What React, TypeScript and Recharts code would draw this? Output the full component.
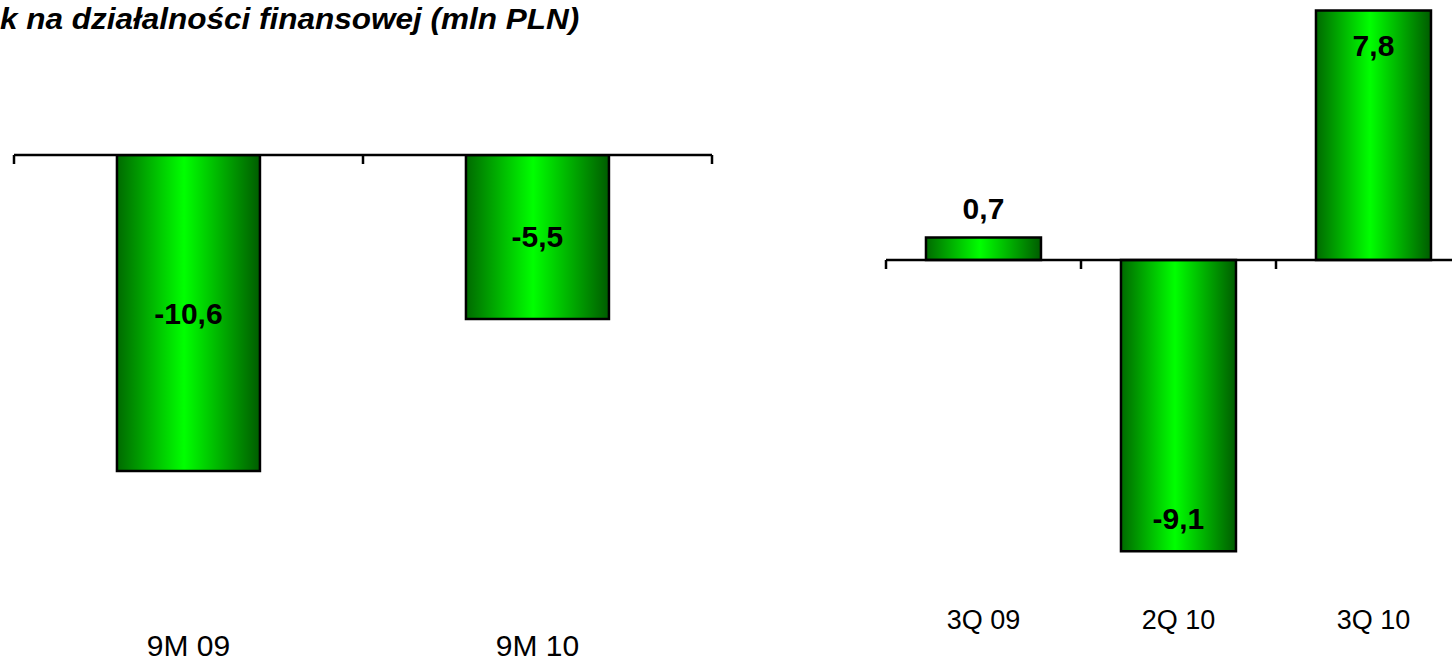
import React from "react";
import { BarChart, Bar, XAxis, YAxis, ReferenceLine, LabelList } from "recharts";

// left panel: 9-month totals
const periodLabels = ["9M 09", "9M 10"];
const periodValues = [-10.6, -5.5];

// right panel: quarters
const quarterLabels = ["3Q 09", "2Q 10", "3Q 10"];
const quarterValues = [0.7, -9.1, 7.8];

const TITLE = "k na działalności finansowej (mln PLN)";
const FONT = '"Liberation Sans", Arial, sans-serif';

const periodData = periodLabels.map((name, i) => ({ name, value: periodValues[i] }));
const quarterData = quarterLabels.map((name, i) => ({ name, value: quarterValues[i] }));

const fmt = (v: number) => v.toFixed(1).replace(".", ",");

// zero line with tick marks at category boundaries (Excel style)
const zeroAxis = (count: number) => (props: any) => {
  const { x1, y1, x2 } = props;
  const step = (x2 - x1) / count;
  return (
    <g>
      <line x1={x1} y1={y1} x2={x2} y2={y1} stroke="#000" strokeWidth={2.5} />
      {Array.from({ length: count + 1 }, (_, i) => (
        <line
          key={i}
          x1={x1 + i * step}
          x2={x1 + i * step}
          y1={y1}
          y2={y1 + 9}
          stroke="#000"
          strokeWidth={2.5}
        />
      ))}
    </g>
  );
};

// "center" puts the value mid-bar, "end" puts it past the bar end unless it would leave the plot
const valueLabel = (mode: "center" | "end", plotTop: number, plotBottom: number) => (props: any) => {
  const { x, y, width, height, value } = props;
  const top = Math.min(y, y + height);
  const bottom = Math.max(y, y + height);
  const cx = x + width / 2;
  let cy = (top + bottom) / 2;
  if (mode === "end") {
    if (value >= 0) cy = top - 32 < plotTop + 20 ? top + 35 : top - 29;
    else cy = bottom + 32 > plotBottom - 20 ? bottom - 33 : bottom + 31;
  }
  return (
    <text
      x={cx}
      y={cy}
      textAnchor="middle"
      dominantBaseline="central"
      fontFamily={FONT}
      fontWeight="bold"
      fontSize={30}
      fill="#000"
    >
      {fmt(value)}
    </text>
  );
};

const Gradient = ({ id }: { id: string }) => (
  <defs>
    <linearGradient id={id} x1="0" y1="0" x2="1" y2="0">
      <stop offset="0%" stopColor="#006a00" />
      <stop offset="47%" stopColor="#00ff00" />
      <stop offset="100%" stopColor="#005c00" />
    </linearGradient>
  </defs>
);

export default function App() {
  return (
    <div
      style={{
        position: "absolute",
        left: 0,
        top: 0,
        width: 1452,
        height: 662,
        overflow: "hidden",
        background: "#fff",
        fontFamily: FONT,
      }}
    >
      <div
        style={{
          position: "absolute",
          left: 0,
          top: 4,
          fontSize: 30,
          lineHeight: "30px",
          fontWeight: "bold",
          fontStyle: "italic",
          whiteSpace: "nowrap",
          color: "#000",
          transform: "scaleX(1.05)",
          transformOrigin: "left center",
        }}
      >
        {TITLE}
      </div>

      {/* LEFT: 9M */}
      <div style={{ position: "absolute", left: 0, top: 0 }}>
        <BarChart
          width={730}
          height={662}
          data={periodData}
          margin={{ top: 155, right: 18, bottom: 0, left: 14 }}
          barCategoryGap="29.5%"
        >
          <Gradient id="gLeft" />
          <XAxis
            dataKey="name"
            height={30}
            axisLine={false}
            tickLine={false}
            tickSize={0}
            tickMargin={3}
            tick={{ fill: "#000", fontSize: 30, fontFamily: FONT }}
            interval={0}
          />
          <YAxis hide domain={[-16, 0]} allowDataOverflow />
          <Bar dataKey="value" fill="url(#gLeft)" stroke="#000" strokeWidth={2.5} isAnimationActive={false}>
            <LabelList dataKey="value" content={valueLabel("center", 155, 632)} />
          </Bar>
          <ReferenceLine y={0} shape={zeroAxis(periodData.length)} />
        </BarChart>
      </div>

      {/* RIGHT: quarters */}
      <div style={{ position: "absolute", left: 850, top: 0 }}>
        <BarChart
          width={650}
          height={662}
          data={quarterData}
          margin={{ top: 0, right: 29, bottom: 0, left: 36 }}
          barCategoryGap="20.5%"
        >
          <Gradient id="gRight" />
          <XAxis
            dataKey="name"
            height={62}
            axisLine={false}
            tickLine={false}
            tickSize={0}
            tickMargin={10}
            tick={{ fill: "#000", fontSize: 27, fontFamily: FONT }}
            interval={0}
          />
          <YAxis hide domain={[-10.625, 8.125]} allowDataOverflow />
          <Bar dataKey="value" fill="url(#gRight)" stroke="#000" strokeWidth={2.5} isAnimationActive={false}>
            <LabelList dataKey="value" content={valueLabel("end", 0, 600)} />
          </Bar>
          <ReferenceLine y={0} shape={zeroAxis(quarterData.length)} />
        </BarChart>
      </div>
    </div>
  );
}
